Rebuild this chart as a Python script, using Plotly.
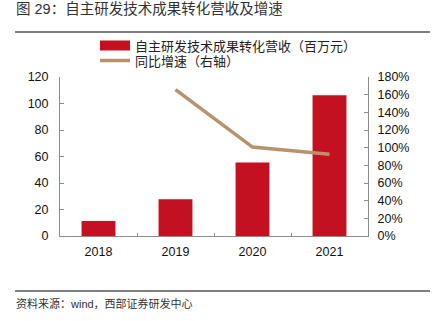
import plotly.graph_objects as go

years = ["2018", "2019", "2020", "2021"]
revenue = [11.3, 27.8, 55.4, 106.3]
growth_years = ["2019", "2020", "2021"]
growth = [1.657, 1.007, 0.925]

bar_name = "自主研发技术成果转化营收（百万元）"
line_name = "同比增速（右轴）"
title_text = "图 29：自主研发技术成果转化营收及增速"
source_text = "资料来源：wind，西部证券研发中心"

CJK = "Liberation Sans, Noto Sans CJK SC"
axis_col = "#8c8c8c"
bar_col = "#C3111F"
line_col = "#B8926A"

fig = go.Figure()
fig.add_trace(go.Bar(x=years, y=revenue, name=bar_name, marker_color=bar_col,
                     marker_line_width=0, yaxis="y", showlegend=False))
# legend key for the bars (wide swatch as in the reference)
fig.add_trace(go.Scatter(x=[None], y=[None], name=bar_name, mode="lines",
                         line=dict(color=bar_col, width=10), legend="legend"))
fig.add_trace(go.Scatter(x=growth_years, y=growth, name=line_name, mode="lines",
                         line=dict(color=line_col, width=3.5), yaxis="y2", legend="legend2"))

def py(px):
    return (236 - px) / 159

def pxx(px):
    return (px - 60) / 308

leg_common = dict(xanchor="left", yanchor="top", bgcolor="rgba(0,0,0,0)",
                  font=dict(size=13, color="#222", family=CJK), itemwidth=30)

fig.update_layout(
    width=435, height=321,
    margin=dict(l=60, r=67, t=77, b=85),
    paper_bgcolor="white", plot_bgcolor="white",
    bargap=0.56,
    font=dict(family=CJK, size=12, color="#222"),
    showlegend=True,
    legend=dict(x=pxx(95), y=py(30.5), **leg_common),
    legend2=dict(x=pxx(95), y=py(45.5), **leg_common),
    xaxis=dict(type="category", showline=True, linecolor=axis_col, linewidth=1,
               ticks="inside", ticklen=3, tickcolor=axis_col, tickson="boundaries",
               tickfont=dict(size=12.5, color="#111"), showgrid=False, ticklabelstandoff=4),
    yaxis=dict(range=[0, 120], dtick=20, showline=True, linecolor=axis_col, linewidth=1,
               ticks="inside", ticklen=4, tickcolor=axis_col, showgrid=False, zeroline=False,
               tickfont=dict(size=12.5, color="#111"), ticklabelstandoff=8),
    yaxis2=dict(range=[0, 1.8], dtick=0.2, tickformat=".0%", overlaying="y", side="right",
                showline=True, linecolor=axis_col, linewidth=1, ticks="inside", ticklen=4,
                tickcolor=axis_col, showgrid=False, zeroline=False,
                tickfont=dict(size=12.5, color="#111"), ticklabelstandoff=6),
)

fig.add_annotation(text=title_text, xref="paper", yref="paper",
                   x=pxx(14), y=py(9), xanchor="left", yanchor="middle",
                   showarrow=False, font=dict(size=14.5, color="#333", family=CJK))
fig.add_annotation(text=source_text, xref="paper", yref="paper",
                   x=pxx(14), y=py(303), xanchor="left", yanchor="middle",
                   showarrow=False, font=dict(size=11, color="#333", family=CJK))
for yl in (32, 291):
    fig.add_shape(type="line", xref="paper", yref="paper",
                  x0=pxx(15), x1=pxx(430), y0=py(yl), y1=py(yl),
                  line=dict(color="#555", width=1.3))

fig.write_html("out.html")
